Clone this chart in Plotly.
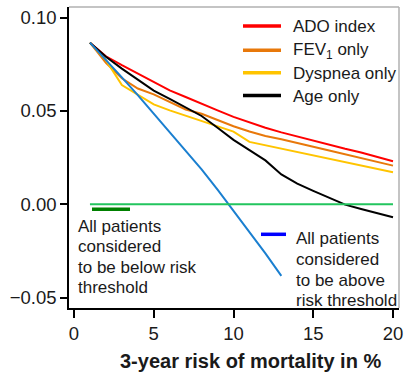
import plotly.graph_objects as go

# ---- data ----
risk = list(range(1, 21))
ado_index = [0.0866, 0.0793, 0.0745, 0.0700, 0.0657, 0.0610, 0.0575, 0.0537, 0.0503, 0.0468,
             0.0437, 0.0410, 0.0385, 0.0362, 0.0340, 0.0318, 0.0297, 0.0277, 0.0255, 0.0230]
fev1_only = [0.0866, 0.0758, 0.0675, 0.0620, 0.0589, 0.0550, 0.0508, 0.0485, 0.0450, 0.0418,
             0.0390, 0.0366, 0.0348, 0.0330, 0.0308, 0.0288, 0.0268, 0.0248, 0.0228, 0.0207]
dyspnea_only = [0.0866, 0.0772, 0.0639, 0.0585, 0.0535, 0.0503, 0.0475, 0.0443, 0.0415, 0.0389,
                0.0334, 0.0316, 0.0298, 0.0280, 0.0262, 0.0243, 0.0225, 0.0207, 0.0189, 0.0171]
age_only = [0.0866, 0.0790, 0.0727, 0.0668, 0.0609, 0.0565, 0.0520, 0.0473, 0.0410, 0.0345,
            0.0290, 0.0235, 0.0160, 0.0110, 0.0072, 0.0035, -0.0002, -0.0025, -0.0048, -0.0070]
treat_all_x = list(range(1, 14))
treat_all = [0.0866, 0.0775, 0.0680, 0.0585, 0.0485, 0.0388, 0.0290, 0.0187, 0.0078, -0.0035,
             -0.0148, -0.0263, -0.0384]
treat_none_x = [1, 20]
treat_none = [0.0, 0.0]

series_names = ["ADO index", "FEV<sub>1</sub> only", "Dyspnea only", "Age only"]
series_colors = ["#ff0000", "#e8780a", "#ffc400", "#000000"]
x_ticks = [0, 5, 10, 15, 20]
y_ticks = [-0.05, 0.0, 0.05, 0.10]
x_title = "3-year risk of mortality in %"
below_text = ["All patients", "considered", "to be below risk", "threshold"]
above_text = ["All patients", "considered", "to be above", "risk threshold"]

FONT = "Liberation Sans, Arial, Helvetica, sans-serif"
W, H = 416, 378
L, R, T, B = 69, 17, 7, 70
PW, PH = W - L - R, H - T - B


def px(x):
    return (x - L) / PW


def py(y):
    return (H - B - y) / PH


fig = go.Figure()
for vals, name, col in zip([ado_index, fev1_only, dyspnea_only, age_only], series_names, series_colors):
    fig.add_trace(go.Scatter(x=risk, y=vals, mode="lines", name=name,
                             line=dict(color=col, width=2), showlegend=False))
fig.add_trace(go.Scatter(x=treat_all_x, y=treat_all, mode="lines", name="Treat all",
                         line=dict(color="#1a7fd0", width=2), showlegend=False))
fig.add_trace(go.Scatter(x=treat_none_x, y=treat_none, mode="lines", name="Treat none",
                         line=dict(color="#22c55e", width=2), showlegend=False))

shapes = []
annotations = []
# top/right light frame
shapes.append(dict(type="line", xref="paper", yref="paper", x0=0, x1=1, y0=1, y1=1,
                   line=dict(color="#b0b0b0", width=1.5)))
shapes.append(dict(type="line", xref="paper", yref="paper", x0=1, x1=1, y0=0, y1=1,
                   line=dict(color="#b0b0b0", width=1.5)))

# manual legend
leg_y = [26, 50.3, 72.8, 95.5]
for name, col, yy in zip(series_names, series_colors, leg_y):
    shapes.append(dict(type="line", xref="paper", yref="paper", x0=px(243), x1=px(281),
                       y0=py(yy), y1=py(yy), line=dict(color=col, width=3.5)))
    annotations.append(dict(x=px(291), y=py(yy + 1), xref="paper", yref="paper", text=name,
                            showarrow=False, xanchor="left", yanchor="middle",
                            font=dict(family=FONT, size=17, color="#1a1a1a")))

# key lines for reference annotations
shapes.append(dict(type="line", xref="paper", yref="paper", x0=px(92), x1=px(130),
                   y0=py(209.3), y1=py(209.3), line=dict(color="#008000", width=3.5)))
shapes.append(dict(type="line", xref="paper", yref="paper", x0=px(261), x1=px(286),
                   y0=py(234.3), y1=py(234.3), line=dict(color="#0000ff", width=3.5)))

for t, yy in zip(below_text, [226, 246.5, 267, 287.5]):
    annotations.append(dict(x=px(75.5), y=py(yy), xref="paper", yref="paper", text=t,
                            showarrow=False, xanchor="left", yanchor="middle",
                            font=dict(family=FONT, size=17, color="#1a1a1a")))
for t, yy in zip(above_text, [239, 259.5, 280, 300]):
    annotations.append(dict(x=px(294), y=py(yy), xref="paper", yref="paper", text=t,
                            showarrow=False, xanchor="left", yanchor="middle",
                            font=dict(family=FONT, size=17, color="#1a1a1a")))

annotations.append(dict(x=px(250), y=py(361), xref="paper", yref="paper", text="<b>" + x_title + "</b>",
                        showarrow=False, xanchor="center", yanchor="middle",
                        font=dict(family=FONT, size=20, color="#1a1a1a")))

fig.update_layout(
    width=W, height=H,
    margin=dict(l=L, r=R, t=T, b=B, pad=0),
    paper_bgcolor="white", plot_bgcolor="white",
    font=dict(family=FONT, size=18.5, color="#1a1a1a"),
    shapes=shapes, annotations=annotations,
    xaxis=dict(range=[-0.314, 20.377], tickvals=x_ticks, showgrid=False, zeroline=False,
               showline=True, linecolor="black", linewidth=1.5, ticks="outside",
               ticklen=8, tickwidth=1.5, tickcolor="black",
               tickfont=dict(family=FONT, size=18.5, color="#1a1a1a")),
    yaxis=dict(range=[-0.0556, 0.1057], tickvals=y_ticks, tickformat=".2f", showgrid=False,
               zeroline=False, showline=True, linecolor="black", linewidth=1.5, ticks="outside",
               ticklen=7, tickwidth=1.5, tickcolor="black",
               tickfont=dict(family=FONT, size=18.5, color="#1a1a1a")),
)

fig.write_html("out.html", config={"displayModeBar": False},
               post_script="document.body.style.margin='0';document.body.style.padding='0';")
